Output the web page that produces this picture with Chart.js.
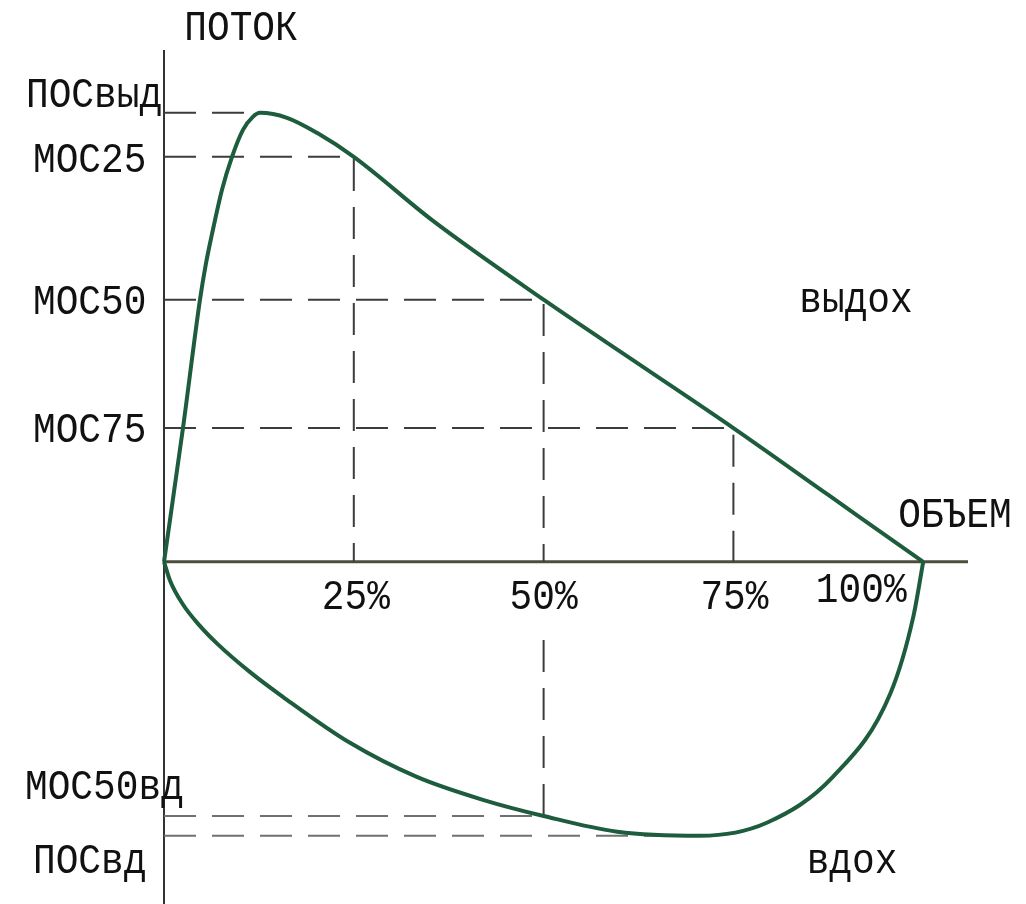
<!DOCTYPE html>
<html>
<head>
<meta charset="utf-8">
<script src="https://cdn.jsdelivr.net/npm/chart.js@4/dist/chart.umd.min.js"></script>
<style>
  html, body { margin: 0; padding: 0; background: #fff; }
  #wrap { width: 1026px; height: 904px; position: relative; }
</style>
</head>
<body>
<div id="wrap"><canvas id="loopChart"></canvas></div>
<script>
// expiration branch: volume (% of FVC) vs flow
const expVolume = [0, 2.5, 4.74, 5.5, 6.32, 7.64, 8.96, 10.4, 11.7, 12.65, 16.2, 20.2, 25, 35.4, 50, 62.5, 75, 87.5, 100];
const expFlow   = [0, 2.98, 5.84, 6.62, 7.3, 8.29, 9.02, 9.62, 9.91, 10.0, 9.89, 9.55, 9.02, 7.6, 5.84, 4.41, 2.98, 1.49, 0];

// inspiration branch
const insVolume = [0, 0.8, 2.5, 4.7, 7.0, 11.3, 15.7, 24.5, 33.3, 42.0, 50, 59.7, 70.6, 79.4, 88.1, 95.7, 98.7, 100];
const insFlow   = [0, -0.42, -0.95, -1.42, -1.82, -2.45, -3.01, -4.03, -4.79, -5.30, -5.66, -6.01, -6.10, -5.81, -4.79, -2.92, -1.22, 0];

// marked indices
const flowLabels  = ['ПОСвыд', 'МОС25', 'МОС50', 'МОС75', 'МОС50вд', 'ПОСвд'];
const flowMarks   = [10.0, 9.02, 5.84, 2.98, -5.66, -6.10];
const flowMarkVol = [12.65, 25, 50, 75, 50, 70.6];

const volumeTicks = [25, 50, 75, 100];
const volumeTickLabels = ['25%', '50%', '75%', '100%'];

const pts = (xs, ys) => xs.map((x, i) => ({ x: x, y: ys[i] }));

// guide lines built from the marks
function guide(i, down) {
  const p = [{ x: 0, y: flowMarks[i] }, { x: flowMarkVol[i], y: flowMarks[i] }];
  if (down !== undefined) p.push({ x: flowMarkVol[i], y: down });
  return p;
}

const curveColor = '#1d5c3c';
const dashUp = '#3c3c3c';
const dashDown = '#707070';

function dashed(data, color) {
  return {
    data: data, borderColor: color, borderWidth: 2, borderDash: [32, 16],
    pointRadius: 0, tension: 0, fill: false
  };
}

const datasets = [
  { label: 'выдох', data: pts(expVolume, expFlow), borderColor: curveColor, borderWidth: 4,
    pointRadius: 0, cubicInterpolationMode: 'monotone', fill: false },
  { label: 'вдох', data: pts(insVolume, insFlow), borderColor: curveColor, borderWidth: 4,
    pointRadius: 0, cubicInterpolationMode: 'monotone', fill: false },
  dashed(guide(0), dashUp),
  dashed(guide(1, 0), dashUp),
  dashed(guide(2, 0), dashUp),
  dashed(guide(3, 0), dashUp),
  dashed([{ x: 0, y: flowMarks[4] }, { x: flowMarkVol[4], y: flowMarks[4] }], dashDown),
  dashed([{ x: flowMarkVol[4], y: flowMarks[4] }, { x: flowMarkVol[4], y: -1.45 }], dashUp),
  dashed(guide(5), dashDown)
];

const FONT = '"Liberation Mono", "DejaVu Sans Mono", monospace';

function txt(ctx, s, x, y, align) {
  ctx.save();
  ctx.translate(x, y);
  ctx.scale(0.9, 1);
  ctx.textAlign = align || 'left';
  ctx.textBaseline = 'alphabetic';
  ctx.fillText(s, 0, 0);
  ctx.restore();
}

const axesAndText = {
  id: 'axesAndText',
  beforeDatasetsDraw(chart) {
    const { ctx, chartArea, scales: { x, y } } = chart;
    const x0 = x.getPixelForValue(0), y0 = y.getPixelForValue(0);
    ctx.save();
    ctx.strokeStyle = '#333';
    ctx.lineWidth = 2;
    ctx.beginPath();
    ctx.moveTo(x0, chartArea.top);
    ctx.lineTo(x0, chartArea.bottom);
    ctx.stroke();
    ctx.strokeStyle = '#4d4d3c';
    ctx.lineWidth = 3;
    ctx.beginPath();
    ctx.moveTo(x0, y0);
    ctx.lineTo(chartArea.right, y0);
    ctx.stroke();
    ctx.restore();
  },
  afterDraw(chart) {
    const { ctx, scales: { x, y } } = chart;
    const y0 = y.getPixelForValue(0);
    ctx.save();
    ctx.fillStyle = '#111';
    ctx.font = '42px ' + FONT;
    // flow labels: left edge and baseline offset from the mark line
    const lx = [26, 33, 33, 33, 25, 33];
    const dy = [-6, 15, 14, 14, -17, 37];
    flowLabels.forEach((s, i) => txt(ctx, s, lx[i], y.getPixelForValue(flowMarks[i]) + dy[i]));
    // volume ticks
    const tdx = [2, 0, 1, -62];
    const tdy = [47, 47, 47, 40];
    volumeTickLabels.forEach((s, i) =>
      txt(ctx, s, x.getPixelForValue(volumeTicks[i]) + tdx[i], y0 + tdy[i], 'center'));
    // axis titles and branch names
    txt(ctx, 'ПОТОК', 241, 40, 'center');
    txt(ctx, 'ОБЪЕМ', 955, 527, 'center');
    txt(ctx, 'выдох', 856, 312, 'center');
    txt(ctx, 'вдох', 852, 873, 'center');
    ctx.restore();
  }
};

new Chart(document.getElementById('loopChart'), {
  type: 'line',
  data: { datasets: datasets },
  options: {
    responsive: true,
    maintainAspectRatio: false,
    animation: false,
    layout: { padding: { left: 164, right: 58, top: 50, bottom: 0 } },
    plugins: { legend: { display: false }, tooltip: { enabled: false } },
    scales: {
      x: { type: 'linear', min: 0, max: 105.9, display: false },
      y: { type: 'linear', min: -7.62, max: 11.4, display: false }
    },
    clip: false
  },
  plugins: [axesAndText]
});
</script>
</body>
</html>
